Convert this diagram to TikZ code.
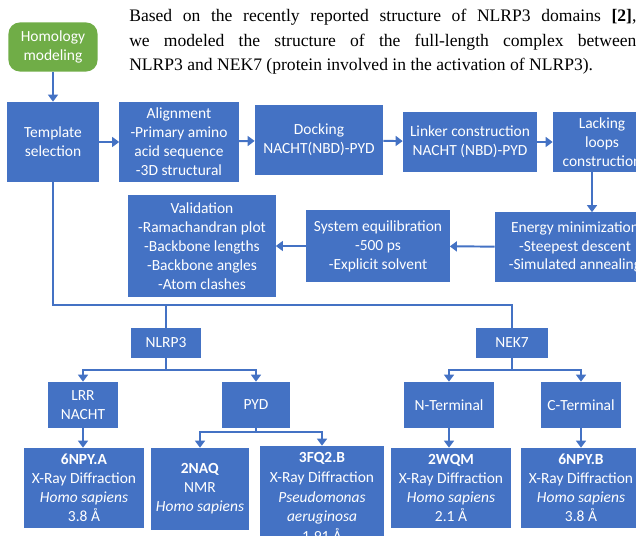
\documentclass[tikz,border=0pt]{standalone}
\usepackage{fontspec}
\setmainfont{Liberation Serif}
\newfontfamily\boxfont{Carlito}
\usetikzlibrary{arrows.meta}
\definecolor{boxblue}{HTML}{4472C4}
\definecolor{boxgreen}{HTML}{70AD47}

\begin{document}
\begin{tikzpicture}[x=0.025cm,y=-0.025cm,
    box/.style={fill=boxblue,text=white,align=center,inner sep=1pt,
      font=\boxfont\fontsize{11}{13.5}\selectfont},
    link/.style={boxblue,line width=1.4pt},
    flow/.style={link,-{Triangle[width=7pt,length=5pt]}}]
  \useasboundingbox (0,0) rectangle (636,536);

  \node[anchor=north west,inner sep=0pt,text width=12.675cm,align=justify,
    font=\fontsize{12.5}{17.4}\selectfont] (intro) at (129,9)
    {Based on the recently reported structure of NLRP3 domains \textbf{[2]},\linebreak
     we modeled the structure of the full-length complex between\linebreak
     NLRP3 and NEK7 (protein involved in the activation of NLRP3).};

  \node[box,fill=boxgreen,rounded corners=8pt,minimum width=2.225cm,minimum height=1.225cm]
    (homology) at (53,47) {Homology\\modeling};

  \node[box,minimum width=2.3cm,minimum height=2cm] (template) at (53,142) {Template\\selection};
  \node[box,minimum width=2.975cm,minimum height=2cm] (align) at (179,142)
    {Alignment\\-Primary amino\\acid sequence\\-3D structural};
  \node[box,minimum width=3.2cm,minimum height=1.75cm] (docking) at (319,140)
    {Docking\\NACHT(NBD)-PYD};
  \node[box,minimum width=3.35cm,minimum height=1.475cm] (linker) at (470,142)
    {Linker construction\\NACHT (NBD)-PYD};
  \node[box,minimum width=2.45cm,minimum height=1.5cm] (loops) at (602,142)
    {Lacking\\loops\\construction};

  \node[box,minimum width=4cm,minimum height=1.725cm] (energy) at (575,247)
    {Energy minimization\\-Steepest descent\\-Simulated annealing};
  \node[box,minimum width=3.575cm,minimum height=1.8cm] (equil) at (378,246)
    {System equilibration\\-500 ps\\-Explicit solvent};
  \node[box,minimum width=3.675cm,minimum height=2.55cm] (valid) at (202,246)
    {Validation\\-Ramachandran plot\\-Backbone lengths\\-Backbone angles\\-Atom clashes};

  \node[box,minimum width=1.75cm,minimum height=0.725cm] (nlrp3) at (166,343) {NLRP3};
  \node[box,minimum width=1.8cm,minimum height=0.725cm] (nek7) at (512,343) {NEK7};

  \node[box,minimum width=1.75cm,minimum height=1.15cm] (lrr) at (83,405) {LRR\\NACHT};
  \node[box,minimum width=1.7cm,minimum height=1.15cm] (pyd) at (256,405) {PYD};
  \node[box,minimum width=2.25cm,minimum height=1.15cm] (nterm) at (449,405) {N-Terminal};
  \node[box,minimum width=2cm,minimum height=1.15cm] (cterm) at (581,405) {C-Terminal};

  \node[box,minimum width=3cm,minimum height=2cm] (npya) at (84,488)
    {\textbf{6NPY.A}\\X-Ray Diffraction\\\textit{Homo sapiens}\\3.8 Å};
  \node[box,minimum width=2.45cm,minimum height=2.05cm] (naq) at (200,489)
    {\textbf{2NAQ}\\NMR\\\textit{Homo sapiens}};
  \node[box,minimum width=3.075cm,minimum height=2.55cm,
    font=\boxfont\fontsize{11}{14.2}\selectfont] (fq) at (322,497)
    {\textbf{3FQ2.B}\\X-Ray Diffraction\\\textit{Pseudomonas}\\\textit{aeruginosa}\\1.91 Å};
  \node[box,minimum width=3cm,minimum height=2cm] (wqm) at (451,488)
    {\textbf{2WQM}\\X-Ray Diffraction\\\textit{Homo sapiens}\\2.1 Å};
  \node[box,minimum width=3cm,minimum height=2cm] (npyb) at (581,488)
    {\textbf{6NPY.B}\\X-Ray Diffraction\\\textit{Homo sapiens}\\3.8 Å};

  \coordinate (bus) at (0,305);
  \coordinate (fork) at (0,370);
  \coordinate (pydfork) at (0,432);

  \draw[flow] (homology) -- (template);
  \draw[flow] (template) -- (align);
  \draw[flow] (align) -- (docking);
  \draw[flow] (docking) -- (linker);
  \draw[flow] (linker) -- (loops);
  \draw[flow] ([xshift=-0.25cm]loops.south) -- ([xshift=-0.25cm]loops.south |- energy.north);
  \draw[flow] (energy) -- (equil);
  \draw[flow] (equil) -- (valid);

  \draw[link] (template.south) |- (nek7.north |- bus) -- (nek7.north);
  \draw[link] (nlrp3.north |- bus) -- (nlrp3.north);

  \draw[flow] (nlrp3.south) |- (lrr.north |- fork) -- (lrr.north);
  \draw[flow] (nlrp3.south) |- (pyd.north |- fork) -- (pyd.north);
  \draw[flow] (nek7.south) |- (nterm.north |- fork) -- (nterm.north);
  \draw[flow] (nek7.south) |- (cterm.north |- fork) -- (cterm.north);

  \draw[flow] (lrr.south) -- (lrr.south |- npya.north);
  \draw[flow] (pyd.south) |- (naq.north |- pydfork) -- (naq.north);
  \draw[flow] (pyd.south) |- (fq.north |- pydfork) -- (fq.north);
  \draw[flow] (nterm.south) -- (nterm.south |- wqm.north);
  \draw[flow] (cterm.south) -- (cterm.south |- npyb.north);
\end{tikzpicture}
\end{document}
